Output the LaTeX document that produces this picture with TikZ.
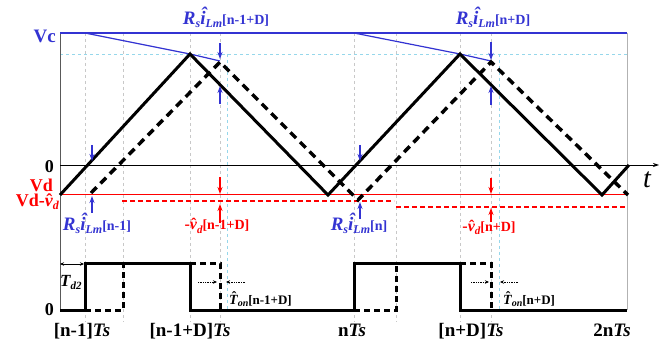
\documentclass[tikz,border=0pt]{standalone}
\usepackage{fontspec}
\setmainfont{Liberation Serif}
\usetikzlibrary{arrows.meta}
\definecolor{myblue}{RGB}{51,51,210}
\definecolor{myred}{RGB}{255,0,0}
\definecolor{lblue}{RGB}{150,215,235}
\definecolor{ggray}{RGB}{200,200,200}
\newcommand\fs[1]{\fontsize{#1}{#1}\selectfont}
\newcommand\hatov[3]{{\ooalign{#3\cr\hidewidth\kern#2\raisebox{#1}{\char"02C6}\hidewidth\cr}}}
\newcommand\RsI[1]{{\bfseries{\fs{19}\itshape R\raisebox{-3pt}{\fs{12}s}\hatov{0.24em}{0.1em}{i}\raisebox{-3pt}{\fs{12}Lm}}{\fs{14}[#1]}}}
\newcommand\VdL[1]{{\bfseries{\fs{16}-\hatov{0pt}{0.05em}{\itshape v}\raisebox{-3pt}{\fs{11}\itshape d}}{\fs{14}[#1]}}}
\newcommand\TonL[1]{{\bfseries{\fs{14}\hatov{0.17em}{0.1em}{\itshape T}\raisebox{-2.5pt}{\fs{10}\itshape on}}{\fs{13}[#1]}}}
\newcommand\TsL[1]{{\bfseries\fs{19}#1{\itshape Ts}}}
\begin{document}
\begin{tikzpicture}[x=1pt,y=-1pt,
  tri/.style={line width=3pt,line join=miter},
  tridash/.style={line width=3.5pt,dash pattern=on 8pt off 5.5pt},
  pulse/.style={line width=3pt},
  pulsedash/.style={line width=3pt,dash pattern=on 6pt off 4pt},
  barr/.style={myblue,line width=1.3pt,-{Stealth[length=7pt,width=5pt]}},
  rarr/.style={myred,line width=1.3pt,-{Stealth[length=7pt,width=5pt]}},
  darr/.style={densely dotted,line width=0.7pt,-{Stealth[length=4pt,width=3.5pt]}},
  vgrid/.style={ggray,dashed,line width=0.6pt},
  lbgrid/.style={lblue,dashed,line width=0.6pt},
  lbl/.style={inner sep=0pt}]
\useasboundingbox (0,0) rectangle (666,347);
% grid
\foreach \xx in {85,123,190,220,354,396,460,491}
  \draw[vgrid] (\xx,33) -- (\xx,322);
\draw[lbgrid] (227,54) -- (227,310);
\draw[lbgrid] (499,54) -- (499,310);
\draw[lbgrid] (60,54) -- (627,54);
% axes
\draw[gray!70!black,line width=0.8pt] (60,33) -- (60,312);
\draw[gray!60,line width=1pt] (627,33) -- (627,310);
\draw[myblue,line width=1.3pt] (60,33) -- (627,33);
\draw[line width=0.8pt,-{Stealth[length=6pt,width=4pt]}] (60,165) -- (659,165);
\draw[myred,line width=1pt] (60,195) -- (627,195);
\draw[myred,line width=1.8pt,dash pattern=on 5pt off 3pt] (122,201) -- (394,201);
\draw[myred,line width=1.8pt,dash pattern=on 5pt off 3pt] (396,207) -- (627,207);
% blue slope lines
\draw[myblue,line width=1.2pt] (85,33) -- (190,54) -- (220,61);
\draw[myblue,line width=1.2pt] (354,33) -- (460,54) -- (491,61);
% triangles
\draw[tri] (60,195) -- (190,54) -- (328,195) -- (460,54) -- (602,195) -- (629,165);
\draw[tridash] (91,193) -- (220,62) -- (358,200) -- (491,62) -- (628,195);
% blue arrows
\draw[barr] (220,43) -- (220,59);
\draw[barr] (220,104) -- (220,86);
\draw[barr] (491,42) -- (491,60);
\draw[barr] (491,105) -- (491,86);
\draw[barr] (92,145) -- (92,161);
\draw[barr] (92,213) -- (92,196);
\draw[barr] (360,145) -- (360,161);
\draw[barr] (360,219) -- (360,202);
% red arrows
\draw[rarr] (220,177) -- (220,194);
\draw[rarr] (220,223) -- (220,204);
\draw[rarr] (491,178) -- (491,194);
\draw[rarr] (491,222) -- (491,208);
% pulses
\draw[pulse] (60,310) -- (85,310) -- (85,263) -- (190,263) -- (190,310) -- (354,310) -- (354,263) -- (460,263) -- (460,310) -- (627,310);
\draw[pulsedash] (85,310) -- (123,310) -- (123,263);
\draw[pulsedash] (190,263) -- (220,263) -- (220,310);
\draw[pulsedash] (354,310) -- (396,310) -- (396,263);
\draw[pulsedash] (460,263) -- (491,263) -- (491,310);
% small arrows
\draw[line width=0.7pt,{Stealth[length=4pt,width=3.5pt]}-{Stealth[length=4pt,width=3.5pt]}] (60,264) -- (84,264);
\draw[darr] (198,282) -- (217,282);
\draw[darr] (245,282) -- (226,282);
\draw[darr] (471,282) -- (489,282);
\draw[darr] (518,282) -- (500,282);
% labels
\node[lbl,anchor=base east,myblue] (vc) at (56,43) {\bfseries\fs{19}Vc};
\node[lbl,anchor=base east] (z1) at (54,173) {\bfseries\fs{18}0};
\node[lbl,anchor=base east,myred] (vd) at (53,192) {\bfseries\fs{18}Vd};
\node[lbl,anchor=base east,myred] (vdv) at (59,207) {\bfseries\fs{18}Vd-\hatov{0pt}{0.05em}{\itshape v}\raisebox{-3pt}{\fs{12}\itshape d}};
\node[lbl,anchor=base] (tt) at (647,188) {\fs{28}\itshape t};
\node[lbl,anchor=base east] (z2) at (54,315) {\bfseries\fs{18}0};
\node[lbl,anchor=base,myblue] (r1) at (226,25) {\RsI{n-1+D}};
\node[lbl,anchor=base,myblue] (r2) at (493,25) {\RsI{n+D}};
\node[lbl,anchor=base,myblue] (r3) at (97,231) {\RsI{n-1}};
\node[lbl,anchor=base,myblue] (r4) at (359,231) {\RsI{n}};
\node[lbl,anchor=base,myred] (v1) at (217,230) {\VdL{n-1+D}};
\node[lbl,anchor=base,myred] (v2) at (489,232) {\VdL{n+D}};
\node[lbl,anchor=base west] (td) at (60,286) {\bfseries\fs{17}\itshape T\raisebox{-3pt}{\fs{11}d2}};
\node[lbl,anchor=base west] (to1) at (229,304) {\TonL{n-1+D}};
\node[lbl,anchor=base west] (to2) at (503,304) {\TonL{n+D}};
\node[lbl,anchor=base] (b1) at (82,336) {\TsL{[n-1]}};
\node[lbl,anchor=base] (b2) at (190,336) {\TsL{[n-1+D]}};
\node[lbl,anchor=base] (b3) at (352,336) {\TsL{n}};
\node[lbl,anchor=base] (b4) at (471,336) {\TsL{[n+D]}};
\node[lbl,anchor=base] (b5) at (612,336) {\TsL{2n}};
\end{tikzpicture}
\end{document}
